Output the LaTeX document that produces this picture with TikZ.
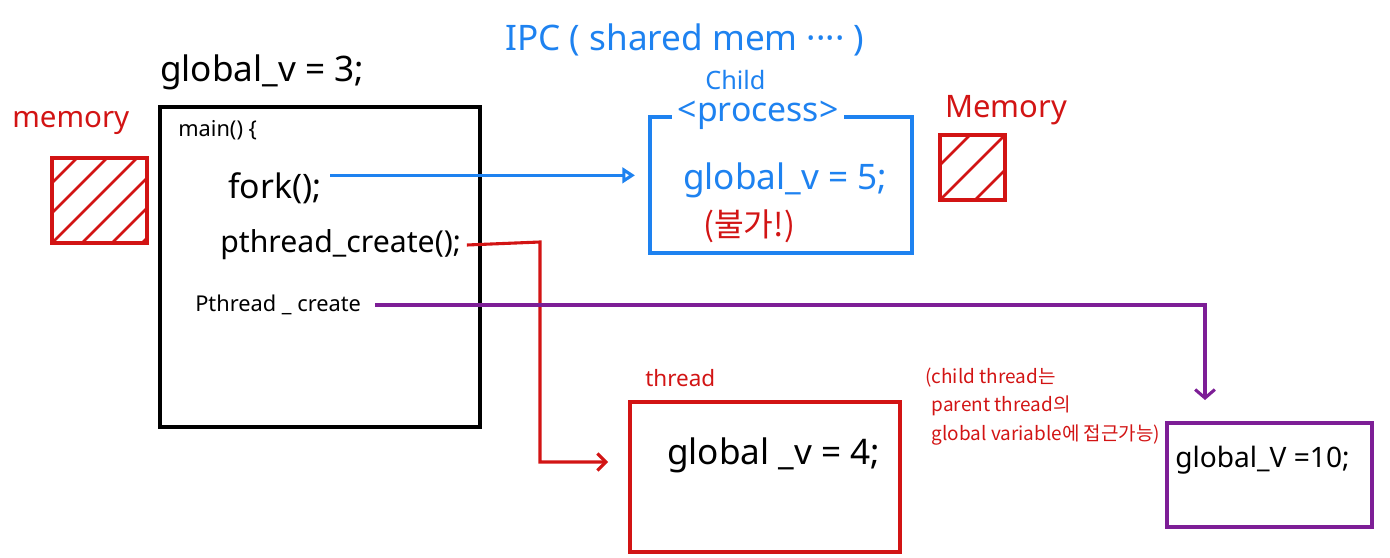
\documentclass[tikz,border=0pt]{standalone}
\usepackage{fontspec}
\setmainfont{Noto Sans}
\newfontfamily\kr{Noto Sans CJK KR}
\usetikzlibrary{arrows.meta,positioning}
\definecolor{penblue}{RGB}{30,130,240}
\definecolor{penred}{RGB}{210,20,20}
\definecolor{penpurple}{RGB}{125,30,150}

\begin{document}
\begin{tikzpicture}[x=0.025cm, y=-0.025cm,
  box/.style={draw, line width=2.4pt, inner sep=0pt},
  hatch/.style={draw=penred, line width=2.2pt, inner sep=0pt,
    path picture={\foreach \s in {#1}
      \draw[penred, line width=2pt] ([xshift=\s*0.025cm]path picture bounding box.south west) -- ++(120,-120);}},
  code/.style={anchor=west, inner sep=0pt, font=\fontsize{22}{26}\selectfont},
  note/.style={anchor=west, inner sep=0pt, text=penred},
  link/.style={line width=2.2pt}
]
\useasboundingbox (0,0) rectangle (1390,558);

% parent process
\node[code, font=\fontsize{25}{28}\selectfont] (gthree) at (160,72) {global\_v = 3;};
\node[box, minimum width=8cm, minimum height=8cm] (mainbox) at (320,267) {};
\node[code, font=\fontsize{15.5}{18}\selectfont] (mainf) at (178,130) {main() \{};
\node[code, font=\fontsize{24}{28}\selectfont] (fork) at (228,188) {fork();};
\node[code, font=\fontsize{21.5}{26}\selectfont] (pcreate) at (220,245) {pthread\_create();};
\node[code, font=\fontsize{15.5}{18}\selectfont] (pcreatetwo) at (195,305) {Pthread \_ create};
\node[note, font=\fontsize{21}{24}\selectfont] (memleft) at (12,123) {memory};
\node[hatch={-60,-30,0,30,60,90}, minimum width=2.375cm, minimum height=2.125cm] (memboxleft) at (99.5,200.5) {};

% child process
\node[code, text=penblue, font=\fontsize{25}{28}\selectfont] (ipc) at (505,40) {IPC ( shared mem ···· )};
\node[box, draw=penblue, minimum width=6.55cm, minimum height=3.4cm] (procbox) at (781,185) {};
\node[inner xsep=4pt, inner ysep=0pt, fill=white, text=penblue, font=\fontsize{24}{28}\selectfont] (proclabel) at (758,115) {<process>};
\node[code, text=penblue, font=\fontsize{18}{22}\selectfont] (child) at (705,80) {Child};
\node[code, text=penblue, font=\fontsize{25}{28}\selectfont] (gfive) at (683,180) {global\_v = 5;};
\node[note, font=\kr\fontsize{23}{26}\selectfont] (bulga) at (703,226) {(불가!)};
\node[note, font=\fontsize{22}{26}\selectfont] (memright) at (945,110) {Memory};
\node[hatch={-35,0,35}, minimum width=1.625cm, minimum height=1.625cm] (memboxright) at (972.5,167.5) {};

% threads
\node[box, draw=penred, minimum width=6.75cm, minimum height=3.75cm] (thrbox) at (765,477) {};
\node[note, font=\fontsize{16}{20}\selectfont] (thrlabel) at (645,378) {thread};
\node[code, font=\fontsize{25}{28}\selectfont] (gfour) at (667,455) {global \_v = 4;};
\node[box, draw=penpurple, minimum width=5.125cm, minimum height=2.6cm] (purbox) at (1269.5,475) {};
\node[code, font=\fontsize{20}{24}\selectfont] (gten) at (1175,460) {global\_V =10;};
\node[note, anchor=north west, align=left, font=\kr\fontsize{13.5}{20}\selectfont] (access) at (925,368)
  {(child thread는\\\hphantom{(}parent thread의\\\hphantom{(}global variable에 접근가능)};

% connectors
\coordinate (blueend) at (635,176);
\coordinate (redturn) at (540,242);
\coordinate (redend) at (608,462);
\coordinate (purend) at (1205,400);
\draw[link, penblue, -{Triangle[open, length=9pt, width=11pt]}] ([shift={(6pt,9pt)}]fork.east) -- ([yshift=9pt]fork.east -| blueend);
\draw[link, penred, -{Straight Barb[length=6pt, width=12pt]}] ([xshift=4pt]pcreate.east) -- (redturn) |- (redend);
\draw[link, penpurple, -{Straight Barb[length=6pt, width=14pt]}] ([xshift=10pt]pcreatetwo.east) -| (purend);
\end{tikzpicture}
\end{document}
